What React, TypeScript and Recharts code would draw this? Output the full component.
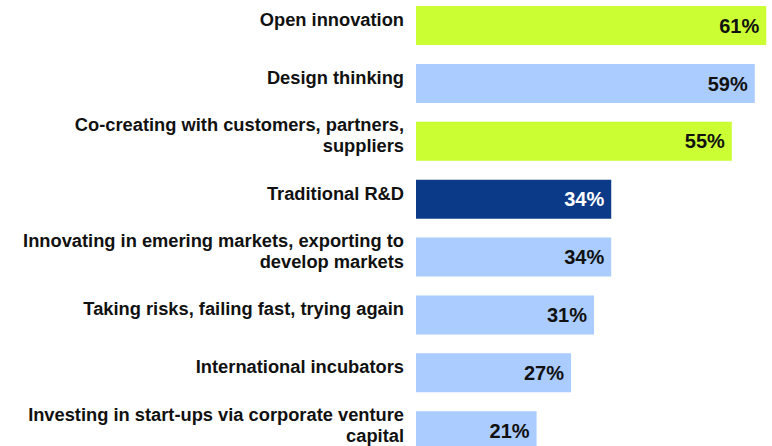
import React from 'react';
import { BarChart, Bar, XAxis, YAxis, Cell, LabelList } from 'recharts';

const categories = [
  'Open innovation',
  'Design thinking',
  'Co-creating with customers, partners,\nsuppliers',
  'Traditional R&D',
  'Innovating in emering markets, exporting to\ndevelop markets',
  'Taking risks, failing fast, trying again',
  'International incubators',
  'Investing in start-ups via corporate venture\ncapital',
];
const values = [61, 59, 55, 34, 34, 31, 27, 21];
const groups = ['open', 'other', 'open', 'rd', 'other', 'other', 'other', 'other'];

const COLORS: Record<string, string> = { open: '#CCFF33', other: '#AACCFF', rd: '#0B3A88' };
const LABEL_COLORS: Record<string, string> = { open: '#111111', other: '#111111', rd: '#FFFFFF' };
const FONT = '"Liberation Sans", Arial, sans-serif';

const data = categories.map((c, i) => ({ name: c, value: values[i], group: groups[i] }));

const CategoryTick = (props: any) => {
  const { x, y, payload } = props;
  const lines: string[] = String(payload.value).split('\n');
  const lh = 21;
  const cap = 13.2;
  const center = y - 6.5;
  const first = center + cap / 2 - ((lines.length - 1) * lh) / 2;
  return (
    <text x={x - 12} y={first} textAnchor="end" fill="#111111" fontFamily={FONT} fontWeight="bold" fontSize={18.3}>
      {lines.map((l, i) => (
        <tspan key={i} x={x - 12} y={first + i * lh}>
          {l}
        </tspan>
      ))}
    </text>
  );
};

const ValueLabel = (props: any) => {
  const { x, y, width, height, value, index } = props;
  const g = groups[index];
  return (
    <text
      x={x + width - 7}
      y={y + height / 2 + 7.2}
      textAnchor="end"
      fill={LABEL_COLORS[g]}
      fontFamily={FONT}
      fontWeight="bold"
      fontSize={20}
    >
      {`${value}%`}
    </text>
  );
};

export default function App() {
  return (
    <div style={{ position: 'absolute', left: 0, top: -3.5, width: 772, height: 463 }}>
      <BarChart
        width={772}
        height={463}
        data={data}
        layout="vertical"
        margin={{ top: 0, right: 0, bottom: 0, left: 0 }}
      >
        <XAxis type="number" domain={[0, 62]} hide />
        <YAxis
          type="category"
          dataKey="name"
          width={416}
          axisLine={false}
          tickLine={false}
          tickSize={0}
          tickMargin={0}
          interval={0}
          tick={<CategoryTick />}
        />
        <Bar dataKey="value" barSize={39} isAnimationActive={false}>
          {data.map((d, i) => (
            <Cell key={i} fill={COLORS[d.group]} />
          ))}
          <LabelList dataKey="value" content={<ValueLabel />} />
        </Bar>
      </BarChart>
    </div>
  );
}
